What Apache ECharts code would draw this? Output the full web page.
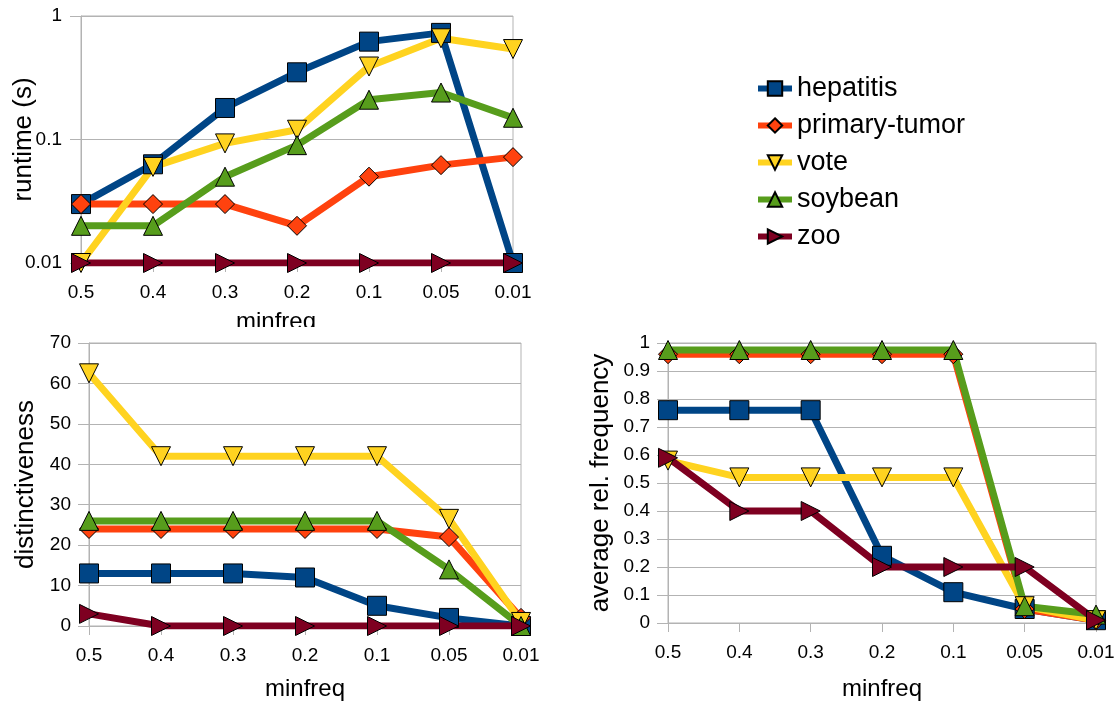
<!DOCTYPE html>
<html>
<head>
<meta charset="utf-8">
<script src="https://cdn.jsdelivr.net/npm/echarts@6/dist/echarts.min.js"></script>
<style>
  html, body { margin: 0; padding: 0; background: #ffffff; }
  #chart { width: 1120px; height: 702px; }
</style>
</head>
<body>
<div id="chart"></div>
<script>
// minimum frequency thresholds along every x axis
const minfreq = ['0.5', '0.4', '0.3', '0.2', '0.1', '0.05', '0.01'];

// runtime in seconds (log scale)
const runtimeHepatitis    = [0.03, 0.063, 0.18, 0.35, 0.62, 0.73, 0.01];
const runtimePrimaryTumor = [0.03, 0.03, 0.03, 0.02, 0.05, 0.062, 0.072];
const runtimeVote         = [0.01, 0.06, 0.093, 0.12, 0.39, 0.66, 0.54];
const runtimeSoybean      = [0.02, 0.02, 0.05, 0.09, 0.21, 0.24, 0.15];
const runtimeZoo          = [0.01, 0.01, 0.01, 0.01, 0.01, 0.01, 0.01];

// distinctiveness
const distHepatitis    = [13, 13, 13, 12, 5, 2, 0];
const distPrimaryTumor = [24, 24, 24, 24, 24, 22, 2];
const distVote         = [62.5, 42, 42, 42, 42, 26.5, 1];
const distSoybean      = [26, 26, 26, 26, 26, 14, 0];
const distZoo          = [3, 0, 0, 0, 0, 0, 0];

// average relative frequency
const freqHepatitis    = [0.76, 0.76, 0.76, 0.24, 0.11, 0.05, 0.01];
const freqPrimaryTumor = [0.96, 0.96, 0.96, 0.96, 0.96, 0.05, 0.01];
const freqVote         = [0.58, 0.52, 0.52, 0.52, 0.52, 0.06, 0.01];
const freqSoybean      = [0.975, 0.975, 0.975, 0.975, 0.975, 0.06, 0.03];
const freqZoo          = [0.59, 0.4, 0.4, 0.2, 0.2, 0.2, 0.01];

const runtimeTicks = ['0.01', '0.1', '1'];

const FONT = 'Liberation Sans';
const GRID_COLOR = '#b3b3b3';

const datasets = [
  { name: 'hepatitis',     color: '#004586', symbol: 'rect',    size: 19,
    data: [runtimeHepatitis, distHepatitis, freqHepatitis] },
  { name: 'primary-tumor', color: '#ff420e', symbol: 'diamond', size: 19,
    data: [runtimePrimaryTumor, distPrimaryTumor, freqPrimaryTumor] },
  { name: 'vote',          color: '#ffd320', symbol: 'path://M0,0 L10,0 L5,10 Z', size: 19,
    data: [runtimeVote, distVote, freqVote] },
  { name: 'soybean',       color: '#579d1c', symbol: 'path://M5,0 L10,10 L0,10 Z', size: 19,
    data: [runtimeSoybean, distSoybean, freqSoybean] },
  { name: 'zoo',           color: '#7e0021', symbol: 'path://M0,0 L10,5 L0,10 Z', size: 19,
    data: [runtimeZoo, distZoo, freqZoo] }
];

const grids = [
  { left: 81,  right: 607, top: 16,  bottom: 439, show: true, borderColor: GRID_COLOR, borderWidth: 1 },
  { left: 89,  right: 599, top: 343, bottom: 75,  show: true, borderColor: GRID_COLOR, borderWidth: 1 },
  { left: 668, right: 24,  top: 343, bottom: 76,  show: true, borderColor: GRID_COLOR, borderWidth: 1 }
];

function xAxisFor(gridIndex, nameGap, namePadding) {
  return {
    type: 'category',
    gridIndex: gridIndex,
    data: minfreq,
    boundaryGap: false,
    name: 'minfreq',
    nameLocation: 'middle',
    nameGap: nameGap,
    nameMoveOverlap: false,
    nameTextStyle: { fontFamily: FONT, fontSize: 24, color: '#000', padding: namePadding },
    axisLine: { lineStyle: { color: GRID_COLOR, width: 1 } },
    axisTick: { show: true, length: 9, lineStyle: { color: GRID_COLOR } },
    axisLabel: { fontFamily: FONT, fontSize: 19, color: '#000', margin: 20 },
    splitLine: { show: false }
  };
}

function yName(text, gap) {
  return {
    name: text, nameLocation: 'middle', nameGap: gap, nameMoveOverlap: false,
    nameTextStyle: { fontFamily: FONT, fontSize: 26, color: '#000' }
  };
}

const yLabel = { fontFamily: FONT, fontSize: 19, color: '#000' };
const yCommon = {
  axisLine: { show: true, lineStyle: { color: GRID_COLOR } },
  axisTick: { show: true, length: 11, lineStyle: { color: GRID_COLOR } },
  splitLine: { show: true, lineStyle: { color: GRID_COLOR } }
};

const option = {
  backgroundColor: '#ffffff',
  animation: false,
  grid: grids,
  legend: {
    left: 750,
    top: 70,
    orient: 'vertical',
    itemWidth: 34,
    itemHeight: 18,
    itemGap: 10,
    lineStyle: { width: 6 },
    textStyle: { fontFamily: FONT, fontSize: 27, color: '#000', lineHeight: 27 },
    data: datasets.map(d => d.name)
  },
  xAxis: [
    xAxisFor(0, 47, [0, 42, 0, 0]),
    xAxisFor(1, 51, 0),
    xAxisFor(2, 54, 0)
  ],
  yAxis: [
    Object.assign({
      type: 'log', gridIndex: 0, logBase: 10, min: 0.01, max: 1,
      minorTick: { show: false },
      axisLabel: Object.assign({ margin: 19, formatter: v => {
        const s = runtimeTicks.find(t => Math.abs(parseFloat(t) - v) < 1e-9);
        return s || '';
      } }, yLabel)
    }, yCommon, yName('runtime (s)', 44)),
    Object.assign({
      type: 'value', gridIndex: 1, min: 0, max: 70, interval: 10,
      axisLabel: Object.assign({ margin: 18 }, yLabel)
    }, yCommon, yName('distinctiveness', 50)),
    Object.assign({
      type: 'value', gridIndex: 2, min: 0, max: 1, interval: 0.1,
      axisLabel: Object.assign({ margin: 18, formatter: v => String(Math.round(v * 10) / 10) }, yLabel)
    }, yCommon, yName('average rel. frequency', 54))
  ],
  graphic: [
    // the runtime panel's axis title runs into the panel below it
    { type: 'rect', left: 0, top: 327, shape: { width: 560, height: 8 },
      style: { fill: '#ffffff' }, z: 100 }
  ],
  series: []
};

for (let g = 0; g < 3; g++) {
  datasets.forEach(d => {
    option.series.push({
      name: d.name,
      type: 'line',
      xAxisIndex: g,
      yAxisIndex: g,
      data: d.data[g],
      symbol: d.symbol,
      symbolSize: d.size,
      showAllSymbol: true,
      color: d.color,
      lineStyle: { width: 7, color: d.color },
      itemStyle: { color: d.color, borderColor: '#000', borderWidth: 1 },
      emphasis: { disabled: true }
    });
  });
}

const chart = echarts.init(document.getElementById('chart'), null, { renderer: 'canvas' });
chart.setOption(option);
</script>
</body>
</html>
